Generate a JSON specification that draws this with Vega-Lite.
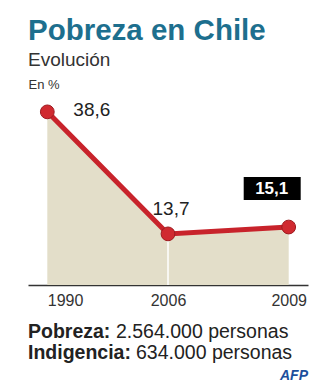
{
  "$schema": "https://vega.github.io/schema/vega-lite/v6.json",
  "background": "white",
  "padding": {"left": 28, "top": 15, "right": 3, "bottom": 5},
  "config": {"font": "Liberation Sans", "view": {"stroke": null}},
  "spacing": 13,
  "vconcat": [
    {
      "width": 280,
      "height": 180,
      "title": {
        "text": "Pobreza en Chile",
        "subtitle": "Evolución",
        "anchor": "start",
        "frame": "group",
        "fontSize": 29.5,
        "fontWeight": "bold",
        "color": "#1d6f8e",
        "subtitleFontSize": 19,
        "subtitleColor": "#333333",
        "subtitlePadding": 5,
        "offset": 7
      },
      "data": {
        "values": [
          {"year": "1990", "pct": 38.6, "label": "38,6"},
          {"year": "2006", "pct": 13.7, "label": "13,7"},
          {"year": "2009", "pct": 15.1, "label": "15,1"}
        ]
      },
      "encoding": {
        "x": {
          "field": "year",
          "type": "ordinal",
          "scale": {"type": "point", "padding": 0.16},
          "axis": {
            "title": null,
            "domain": true,
            "domainColor": "#333333",
            "domainWidth": 1.5,
            "ticks": false,
            "grid": false,
            "labelAngle": 0,
            "labelFontSize": 16,
            "labelColor": "#333333",
            "labelPadding": 7,
            "labelAlign": {"condition": {"test": "datum.value == '1990'", "value": "left"}, "value": "center"}
          }
        },
        "y": {
          "field": "pct",
          "type": "quantitative",
          "scale": {"domain": [3.27, 40], "zero": false, "nice": false},
          "axis": {
            "title": "En %",
            "domain": false,
            "ticks": false,
            "labels": false,
            "grid": false,
            "titleAngle": 0,
            "titleAlign": "left",
            "titleBaseline": "alphabetic",
            "titleX": 0,
            "titleY": -17,
            "titleFontSize": 13,
            "titleFontWeight": "normal",
            "titleColor": "#333333"
          }
        }
      },
      "layer": [
        {"mark": {"type": "area", "color": "#e3dec9"}, "encoding": {"y2": {"datum": 3.27}}},
        {
          "transform": [{"filter": "datum.year == '2006'"}],
          "mark": {"type": "rule", "color": "white", "strokeWidth": 1.5},
          "encoding": {"y2": {"datum": 3.27}}
        },
        {"mark": {"type": "line", "color": "#c8232b", "strokeWidth": 5}},
        {"mark": {"type": "point", "filled": true, "color": "#d02a30", "size": 190, "stroke": "#9e1b20", "strokeWidth": 1, "opacity": 1}},
        {
          "transform": [{"filter": "datum.year == '1990'"}],
          "mark": {"type": "text", "align": "left", "baseline": "middle", "dx": 26, "dy": -2, "fontSize": 19, "color": "#222222"},
          "encoding": {"text": {"field": "label"}}
        },
        {
          "transform": [{"filter": "datum.year == '2006'"}],
          "mark": {"type": "text", "align": "center", "baseline": "middle", "dx": 3, "dy": -25, "fontSize": 19, "color": "#222222"},
          "encoding": {"text": {"field": "label"}}
        },
        {
          "transform": [{"filter": "datum.year == '2009'"}],
          "mark": {"type": "point", "shape": "M-1.956,-2.174H0.522V-1.174H-1.956Z", "filled": true, "color": "black", "size": 2116, "opacity": 1}
        },
        {
          "transform": [{"filter": "datum.year == '2009'"}],
          "mark": {"type": "text", "align": "center", "baseline": "middle", "dx": -17, "dy": -38, "fontSize": 17, "fontWeight": "bold", "color": "white"},
          "encoding": {"text": {"field": "label"}}
        }
      ]
    },
    {
      "width": 280,
      "height": 42,
      "title": {
        "text": "AFP",
        "orient": "bottom",
        "anchor": "end",
        "fontSize": 14,
        "fontWeight": "bold",
        "fontStyle": "italic",
        "color": "#1c4f9c",
        "offset": 6
      },
      "data": {
        "values": [
          {"line": 1, "bold": "Pobreza:", "rest": "2.564.000 personas"},
          {"line": 2, "bold": "Indigencia:", "rest": "634.000 personas"}
        ]
      },
      "encoding": {
        "y": {"field": "line", "type": "ordinal", "axis": null, "scale": {"type": "point", "padding": 0.5}},
        "x": {"value": 0}
      },
      "layer": [
        {
          "mark": {"type": "text", "align": "left", "baseline": "middle", "fontSize": 19.5, "fontWeight": "bold", "color": "#222222"},
          "encoding": {"text": {"field": "bold"}}
        },
        {
          "transform": [{"filter": "datum.line == 1"}],
          "mark": {"type": "text", "align": "left", "baseline": "middle", "fontSize": 19.5, "color": "#222222", "dx": 88},
          "encoding": {"text": {"field": "rest"}}
        },
        {
          "transform": [{"filter": "datum.line == 2"}],
          "mark": {"type": "text", "align": "left", "baseline": "middle", "fontSize": 19.5, "color": "#222222", "dx": 108},
          "encoding": {"text": {"field": "rest"}}
        }
      ]
    }
  ]
}
